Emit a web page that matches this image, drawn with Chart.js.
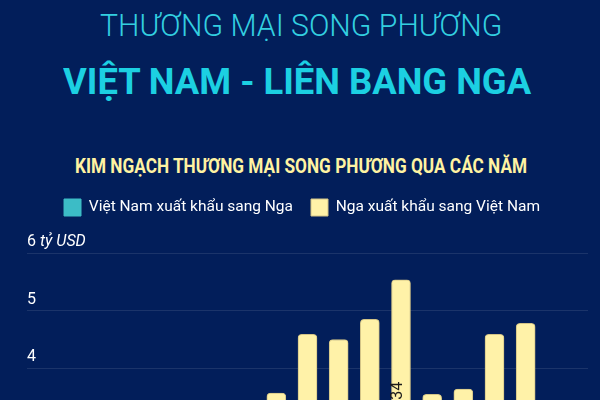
<!DOCTYPE html>
<html lang="vi">
<head>
<meta charset="utf-8">
<title>Thương mại song phương Việt Nam - Liên bang Nga</title>
<script src="https://cdn.jsdelivr.net/npm/chart.js@4.4.1/dist/chart.umd.min.js"></script>
<style>
  html, body { margin: 0; padding: 0; }
  body {
    width: 600px;
    height: 400px;
    overflow: hidden;
    position: relative;
    background: #021e5a;
    font-family: Roboto, "Noto Sans", sans-serif;
  }
  .line {
    position: absolute;
    white-space: nowrap;
    line-height: 1;
    transform-origin: 0 0;
  }
  #title { left: 100px; top: 10px; font-size: 31px; font-weight: 300; color: #33cfe0; }
  #subtitle { left: 63px; top: 63px; font-size: 37px; font-weight: 700; color: #1cd0e2; }
  #chartTitle { left: 75px; top: 156px; font-size: 21px; font-weight: 700; color: #fff3a2; }
  #wrap { position: absolute; left: 0; top: 181px; width: 600px; height: 438px; }
</style>
</head>
<body>
<div id="title" class="line" data-w="402">THƯƠNG MẠI SONG PHƯƠNG</div>
<div id="subtitle" class="line" data-w="468">VIỆT NAM - LIÊN BANG NGA</div>
<div id="chartTitle" class="line" data-w="452">KIM NGẠCH THƯƠNG MẠI SONG PHƯƠNG QUA CÁC NĂM</div>
<div id="wrap"><canvas id="chart"></canvas></div>
<script>
const years = [2017, 2018, 2019, 2020, 2021, 2022, 2023, 2024, 2025];
const seriesNames = ["Việt Nam xuất khẩu sang Nga", "Nga xuất khẩu sang Việt Nam"];
// teal bars sit below the visible crop, so no values can be read for them
const vnExports = [];
const ruExports = [3.57, 4.59, 4.5, 4.85, 5.534, 3.55, 3.64, 4.59, 4.78];
const yUnit = "tỷ USD";

// condensed look for the headings: squeeze each line to its measured width
document.querySelectorAll(".line").forEach((el) => {
  el.style.transform = `scaleX(${el.dataset.w / el.offsetWidth})`;
});

Chart.defaults.font.family = "Roboto";

const extras = {
  id: "extras",
  beforeInit(chart) {
    // leave a gap between the legend and the plot
    const fit = chart.legend.fit;
    chart.legend.fit = function () {
      fit.call(this);
      this.height += 27;
    };
  },
  afterDatasetsDraw(chart) {
    const { ctx } = chart;
    const meta = chart.getDatasetMeta(1);
    ctx.save();
    ctx.font = "16px Roboto";
    ctx.fillStyle = "#1b1b1b";
    ctx.textAlign = "right";
    ctx.textBaseline = "middle";
    meta.data.forEach((bar, i) => {
      ctx.save();
      ctx.translate(bar.x - 3, bar.y + 102);
      ctx.rotate(-Math.PI / 2);
      ctx.fillText(String(ruExports[i]).replace(".", ","), 0, 0);
      ctx.restore();
    });
    ctx.restore();
  },
  afterDraw(chart) {
    const { ctx, chartArea } = chart;
    const y = chart.scales.y;
    ctx.save();
    ctx.font = "16px Roboto";
    const x0 = chartArea.left + ctx.measureText(y.max + " ").width;
    ctx.font = "italic 16px Roboto";
    ctx.fillStyle = "#ffffff";
    ctx.textAlign = "left";
    ctx.textBaseline = "middle";
    ctx.fillText(yUnit, x0, y.getPixelForValue(y.max) - 11);
    ctx.restore();
  },
};

new Chart(document.getElementById("chart"), {
  type: "bar",
  data: {
    datasets: [
      {
        label: seriesNames[0],
        data: years.map((yr, i) => ({ x: yr, y: vnExports[i] })).filter((d) => d.y != null),
        backgroundColor: "#3cbcc6",
        borderColor: "#3cbcc6",
        borderWidth: 1,
        barThickness: 19,
      },
      {
        label: seriesNames[1],
        data: years.map((yr, i) => ({ x: yr, y: ruExports[i] })),
        backgroundColor: "#fff2a8",
        borderColor: "#d3c487",
        borderWidth: 1,
        borderRadius: 4,
        barThickness: 19,
      },
    ],
  },
  options: {
    responsive: true,
    maintainAspectRatio: false,
    animation: false,
    layout: { padding: { left: 16, right: 12, top: 0, bottom: 20 } },
    plugins: {
      tooltip: { enabled: false },
      legend: {
        labels: {
          color: "#ffffff",
          font: { size: 15.5 },
          boxWidth: 17,
          boxHeight: 17,
          padding: 18,
        },
      },
    },
    scales: {
      x: {
        type: "linear",
        min: 2009,
        max: 2027,
        offset: false,
        stacked: true,
        display: false,
      },
      y: {
        min: 0,
        max: 6,
        stacked: true,
        afterFit(scale) {
          scale.width = 11;
        },
        border: { display: false },
        grid: { color: "rgba(255,255,255,0.1)", drawTicks: false },
        ticks: {
          stepSize: 1,
          mirror: true,
          padding: 0,
          labelOffset: -11,
          color: "#ffffff",
          font: { size: 16 },
        },
      },
    },
  },
  plugins: [extras],
});
</script>
</body>
</html>
